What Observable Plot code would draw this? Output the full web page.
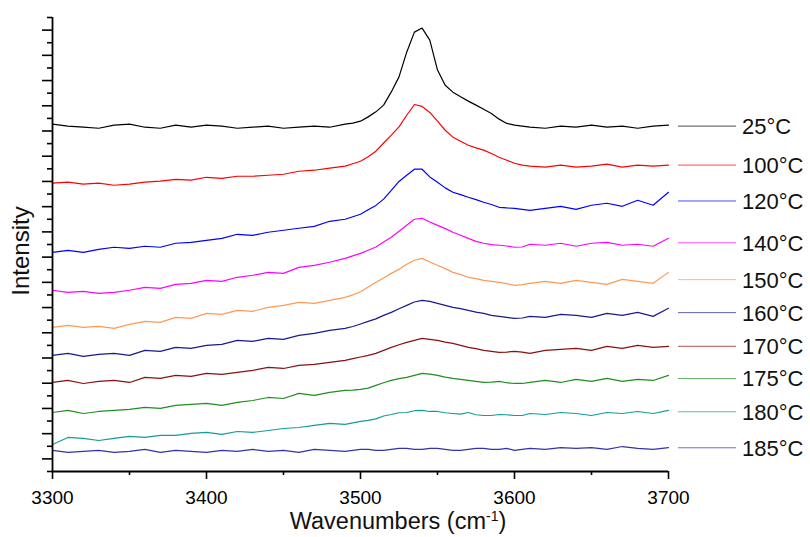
<!DOCTYPE html>
<html><head><meta charset="utf-8">
<script src="https://cdn.jsdelivr.net/npm/d3@7"></script>
<script src="https://cdn.jsdelivr.net/npm/@observablehq/plot@0.6"></script>
<style>
html,body{margin:0;padding:0;background:#fff;}
#chart svg{display:block;}
</style>
</head><body><div id="chart"></div>
<script>
// Wavenumber grid (cm-1): 10 cm-1 steps, 5 cm-1 steps across the O-H band
const wavenumbers = [3300,3310,3320,3330,3340,3350,3360,3370,3380,3390,
  3400,3410,3420,3430,3440,3450,3460,3470,3480,3490,
  3495,3500,3505,3510,3515,3520,3525,3530,3535,3540,3545,3550,
  3555,3560,3565,3570,3575,3580,3585,3590,3595,3600,3605,
  3610,3620,3630,3640,3650,3660,3670,3680,3690,3700];

const labels = ["25°C","100°C","120°C","140°C","150°C","160°C","170°C","175°C","180°C","185°C"];
const colors = ["#000000","#ff0000","#0000ff","#ff00ff","#ff9955","#1a1a8c","#8b1010","#1f8f1f","#139c9c","#3333aa"];

// Intensity (arbitrary units, vertically offset spectra)
const s25 = [27.54,27.38,27.30,27.22,27.46,27.54,27.30,27.22,27.46,27.30,
  27.46,27.38,27.22,27.30,27.38,27.22,27.30,27.38,27.30,27.54,
  27.62,27.78,28.12,28.52,29.05,30.10,31.29,33.25,34.84,35.16,34.21,31.83,
  30.63,30.08,29.71,29.37,29.05,28.73,28.39,27.94,27.60,27.46,27.38,
  27.30,27.22,27.38,27.30,27.46,27.30,27.38,27.22,27.38,27.46];
const s100 = [22.86,22.94,22.78,22.86,22.70,22.78,22.94,23.02,23.17,23.10,
  23.33,23.25,23.41,23.41,23.49,23.57,23.81,23.89,24.05,24.21,
  24.40,24.60,24.95,25.40,26.05,26.67,27.33,28.25,29.10,28.95,28.47,27.78,
  27.06,26.51,26.19,25.87,25.66,25.48,25.21,24.92,24.68,24.44,24.29,
  24.21,24.13,24.29,24.13,24.21,24.37,24.13,24.29,24.21,24.29];
const s120 = [17.38,17.54,17.38,17.62,17.78,17.70,17.86,17.78,18.10,18.17,
  18.33,18.49,18.81,18.73,18.97,19.13,19.29,19.44,19.84,20.00,
  20.20,20.40,20.75,21.10,21.60,22.30,23.00,23.49,23.97,23.97,23.36,22.94,
  22.49,22.14,21.96,21.75,21.56,21.35,21.17,20.95,20.90,20.87,20.79,
  20.71,20.87,21.03,20.79,21.11,21.27,21.03,21.51,21.11,22.14];
const s140 = [14.37,14.21,14.29,14.13,14.21,14.37,14.60,14.52,14.84,14.92,
  15.16,15.08,15.40,15.56,15.79,15.71,16.19,16.35,16.59,16.90,
  17.10,17.30,17.54,17.80,18.20,18.57,19.05,19.52,20.00,20.08,19.79,19.52,
  19.26,18.97,18.73,18.49,18.25,18.10,17.99,17.94,17.88,17.78,17.80,
  18.02,17.94,18.10,17.86,18.10,18.17,17.94,18.02,17.86,18.49];
const s150 = [11.43,11.59,11.43,11.51,11.35,11.67,11.90,11.83,12.22,12.14,
  12.54,12.46,12.78,12.70,13.02,13.17,13.41,13.33,13.57,13.81,
  14.00,14.25,14.63,15.00,15.34,15.71,16.03,16.43,16.75,16.90,16.61,16.35,
  16.09,15.79,15.61,15.40,15.29,15.16,15.08,15.00,14.90,14.76,14.82,
  14.92,15.08,14.92,15.16,15.00,14.84,15.24,15.08,14.92,15.79];
const s160 = [9.21,9.37,9.13,9.29,9.37,9.21,9.60,9.52,9.84,9.76,
  10.00,10.08,10.40,10.32,10.56,10.48,10.79,10.95,11.19,11.35,
  11.50,11.70,11.90,12.10,12.38,12.62,12.91,13.17,13.44,13.57,13.49,13.33,
  13.17,13.02,12.91,12.78,12.64,12.54,12.38,12.30,12.22,12.14,12.17,
  12.30,12.22,12.46,12.38,12.22,12.54,12.38,12.62,12.30,12.94];
const s170 = [7.06,7.22,6.98,7.14,7.22,7.06,7.46,7.38,7.62,7.54,
  7.78,7.70,7.86,8.02,8.25,8.17,8.41,8.49,8.65,8.81,
  8.95,9.08,9.21,9.37,9.60,9.84,10.05,10.24,10.40,10.56,10.48,10.40,
  10.26,10.16,10.00,9.84,9.74,9.60,9.52,9.44,9.47,9.52,9.47,
  9.37,9.60,9.68,9.76,9.60,9.92,9.76,10.00,9.84,9.92];
const s175 = [4.68,4.84,4.60,4.76,4.84,4.92,5.08,5.00,5.24,5.32,
  5.40,5.24,5.48,5.63,5.87,5.79,6.19,6.03,6.27,6.43,
  6.45,6.51,6.61,6.83,7.04,7.22,7.36,7.46,7.62,7.78,7.72,7.62,
  7.48,7.38,7.30,7.22,7.14,7.06,7.09,7.14,7.04,6.98,6.98,
  7.06,7.22,7.06,7.30,7.14,7.38,7.14,7.30,7.22,7.62];
const s180 = [2.14,2.70,2.62,2.46,2.62,2.78,2.70,2.86,2.86,3.02,
  3.10,2.94,3.17,3.10,3.25,3.41,3.49,3.65,3.81,3.73,
  3.85,3.97,4.05,4.17,4.40,4.52,4.66,4.68,4.82,4.84,4.76,4.76,
  4.66,4.60,4.55,4.68,4.50,4.44,4.44,4.52,4.50,4.44,4.44,
  4.60,4.52,4.68,4.60,4.44,4.68,4.60,4.76,4.60,4.84];
const s185 = [1.67,1.51,1.59,1.67,1.51,1.59,1.75,1.51,1.67,1.59,
  1.51,1.67,1.59,1.75,1.59,1.67,1.51,1.75,1.67,1.59,
  1.67,1.75,1.75,1.67,1.67,1.75,1.83,1.83,1.75,1.75,1.83,1.83,
  1.75,1.67,1.67,1.75,1.83,1.83,1.75,1.75,1.83,1.67,1.75,
  1.83,1.75,1.90,1.83,1.90,1.75,1.98,1.83,1.75,1.90];
const series = [s25, s100, s120, s140, s150, s160, s170, s175, s180, s185];

const xTicks = [3300, 3400, 3500, 3600, 3700];
const xMinorTicks = [3350, 3450, 3550, 3650];
const yMajorTicks = d3.range(1, 36, 2);
const yMinorTicks = d3.range(0, 37, 2);

const rows = series.flatMap((vals, i) => vals.map((v, j) => ({wn: wavenumbers[j], v, label: labels[i]})));

const font = "'Liberation Sans', Arial, sans-serif";
const chart = Plot.plot({
  width: 810, height: 537,
  marginLeft: 52, marginRight: 142, marginTop: 17, marginBottom: 66,
  style: {fontFamily: font, fontSize: "19px", color: "#000", background: "#fff", overflow: "visible"},
  x: {domain: [3300, 3700]},
  y: {domain: [0, 36]},
  color: {domain: labels, range: colors},
  marks: [
    Plot.line(rows, {x: "wn", y: "v", z: "label", stroke: "label", strokeWidth: 1.2}),
    Plot.axisX({ticks: xTicks, tickSize: 8, tickPadding: 11, strokeWidth: 1.6, tickFormat: d => String(d), label: null, fontSize: 19}),
    Plot.axisX({ticks: xMinorTicks, tickSize: 4, strokeWidth: 1.6, tickFormat: () => "", label: null}),
    Plot.axisY({ticks: yMajorTicks, tickSize: 10, strokeWidth: 1.6, tickFormat: () => "", label: null}),
    Plot.axisY({ticks: yMinorTicks, tickSize: 5, strokeWidth: 1.6, tickFormat: () => "", label: null}),
    Plot.ruleY([0], {strokeWidth: 1.8}),
    Plot.ruleX([3300], {strokeWidth: 1.8})
  ]
});
document.getElementById("chart").appendChild(chart);

const svg = d3.select(chart);
const ys = chart.scale("y");

// Axis titles
svg.append("text")
  .attr("transform", "translate(21,251) rotate(-90)")
  .attr("text-anchor", "middle").attr("dy", "0.35em")
  .style("font-family", font).style("font-size", "24px").attr("fill", "#111")
  .text("Intensity");
const xt = svg.append("text")
  .attr("x", 398).attr("y", 529)
  .attr("text-anchor", "middle")
  .style("font-family", font).style("font-size", "23.5px").attr("fill", "#111");
xt.append("tspan").text("Wavenumbers (cm");
xt.append("tspan").attr("dy", -8).style("font-size", "14px").text("-1");
xt.append("tspan").attr("dy", 8).text(")");

// Legend aligned to each spectrum's right-end level
const legendX = 810 - 142 + 10;
series.forEach((vals, i) => {
  const y = ys.apply(d3.mean(vals.slice(-5)));
  svg.append("line").attr("x1", legendX).attr("x2", legendX + 58)
    .attr("y1", y).attr("y2", y).attr("stroke", colors[i]).attr("stroke-width", 1).attr("stroke-opacity", 0.7);
  svg.append("text").attr("x", legendX + 64).attr("y", y).attr("dy", "0.36em")
    .attr("text-anchor", "start")
    .style("font-family", font).style("font-size", "22px").attr("fill", "#111")
    .text(labels[i]);
});
</script>
</body></html>
